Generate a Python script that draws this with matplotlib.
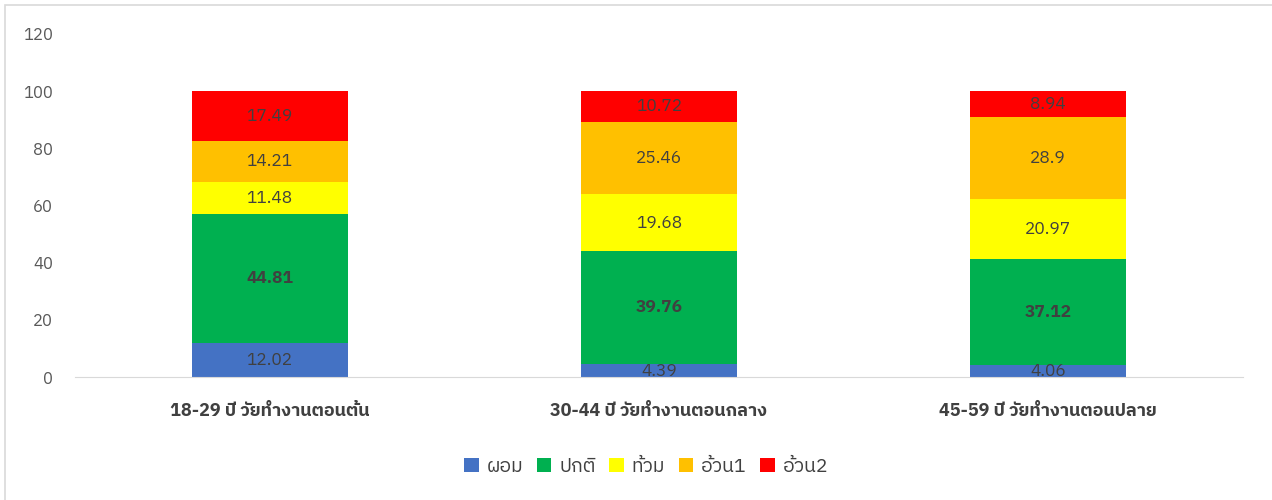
import matplotlib
matplotlib.use("Agg")
import matplotlib.pyplot as plt
from matplotlib import font_manager
from matplotlib.ft2font import FT2Font
from matplotlib.patches import Rectangle
import numpy as np

# data
categories = ["18-29 ปี วัยทำงานตอนต้น", "30-44 ปี วัยทำงานตอนกลาง", "45-59 ปี วัยทำงานตอนปลาย"]
series_names = ["ผอม", "ปกติ", "ท้วม", "อ้วน1", "อ้วน2"]
thin = [12.02, 4.39, 4.06]
normal = [44.81, 39.76, 37.12]
chubby = [11.48, 19.68, 20.97]
fat1 = [14.21, 25.46, 28.9]
fat2 = [17.49, 10.72, 8.94]
colors = ["#4472C4", "#00B050", "#FFFF00", "#FFC000", "#FF0000"]
yticks = [0, 20, 40, 60, 80, 100, 120]

# look for a font that has Thai glyphs
thai_family = None
for path in font_manager.findSystemFonts():
    try:
        cmap = FT2Font(path).get_charmap()
    except Exception:
        continue
    if 0x0E01 in cmap and 0x0E49 in cmap:
        thai_family = font_manager.FontProperties(fname=path).get_name()
        if "Sans" in thai_family or "Tahoma" in thai_family:
            break
fams = ([thai_family] if thai_family else []) + ["DejaVu Sans"]
plt.rcParams["font.family"] = fams

fig = plt.figure(figsize=(12.72, 5.0), dpi=100)
ax = fig.add_axes([0.059, 0.246, 0.918, 0.6864])

x = np.arange(len(categories))
w = 0.4
bottom = np.zeros(len(categories))
for name, vals, col in zip(series_names, [thin, normal, chubby, fat1, fat2], colors):
    vals = np.array(vals)
    ax.bar(x, vals, w, bottom=bottom, color=col, label=name)
    for xi, b, v in zip(x, bottom, vals):
        ax.text(xi, b + v / 2, f"{v:g}", ha="center", va="center", fontsize=12.5,
                color="#404040", fontweight="bold" if name == "ปกติ" else "normal")
    bottom += vals

ax.set_xlim(-0.5, 2.5)
ax.set_ylim(0, 120)
ax.set_yticks(yticks)
ax.set_xticks(x)
ax.set_xticklabels(categories, fontsize=13, fontweight="bold", color="#404040")
ax.tick_params(axis="y", length=0, labelsize=12, labelcolor="#595959", pad=16)
ax.tick_params(axis="x", length=0, pad=18)
for s in ["top", "right", "left"]:
    ax.spines[s].set_visible(False)
ax.spines["bottom"].set_color("#D9D9D9")

fig.legend(loc="center", bbox_to_anchor=(0.508, 0.066), ncol=5, frameon=False,
           fontsize=14, handlelength=0.75, handleheight=0.75, handletextpad=0.4,
           columnspacing=0.7, labelcolor="#404040")

# chart border
fig.patches.append(Rectangle((5 / 1272, -0.1), 1.2, 0.99 + 0.1, transform=fig.transFigure,
                             fill=False, edgecolor="#D9D9D9", lw=1.2))

fig.savefig("out.png", dpi=100)
